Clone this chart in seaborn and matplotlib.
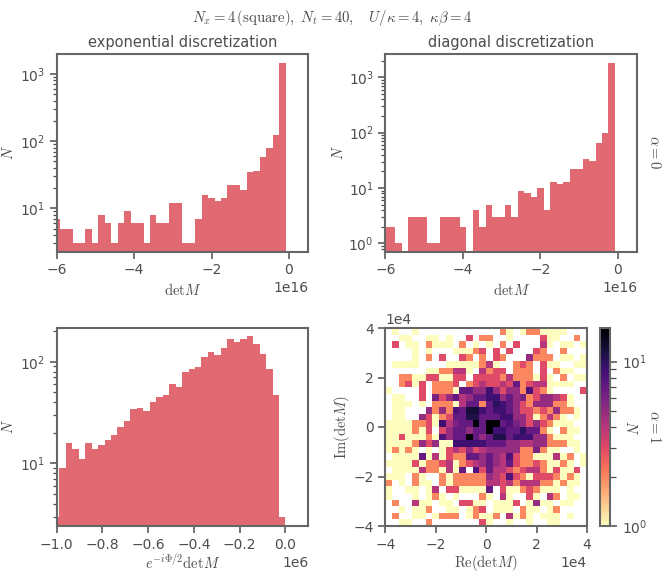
import matplotlib
matplotlib.use('Agg')
import matplotlib.pyplot as plt
import seaborn as sns
import numpy as np
from matplotlib.colors import LogNorm

# counts per bin, left to right
exp_counts = [7, 5, 5, 3, 3, 5, 3, 8, 6, 3, 6, 9, 6, 6, 3, 8, 6, 6, 12, 12, 3, 3, 7, 16, 14, 13, 14, 22, 22, 19, 35, 36, 59, 80, 122, 1450]
diag_counts = [2, 2, 1, 0, 3, 3, 3, 1, 1, 3, 3, 3, 2, 0, 4, 2, 5, 3, 3, 5, 3, 9, 8, 7, 10, 4, 13, 12, 13, 22, 22, 33, 31, 65, 97, 1800]
phase_counts = [3, 9, 16, 14, 11, 16, 14, 15, 17, 19, 23, 26, 34, 35, 33, 40, 45, 47, 61, 57, 80, 85, 88, 112, 125, 116, 135, 166, 158, 168, 178, 150, 118, 85, 47, 3]

# complex plane counts, top row first
plane_counts = [
    [0,1,0,0,1,0,0,0,0,0,0,0,0,0,0,0,0,2,1,0,1,2,2,1,1,1,1,0,0,0],
    [0,0,1,1,0,0,1,1,0,1,0,0,3,0,2,2,0,0,1,0,0,0,0,3,1,1,0,0,2,0],
    [0,3,0,1,1,0,2,1,1,1,0,2,0,1,0,1,0,2,0,3,0,0,0,4,1,0,1,1,0,1],
    [0,0,0,0,1,0,1,0,0,0,1,1,1,2,3,0,3,0,3,0,0,0,3,2,0,0,2,0,0,0],
    [0,0,0,0,1,0,2,0,3,0,0,3,2,0,2,0,3,2,0,0,0,5,2,2,2,0,1,1,0,1],
    [0,1,1,1,1,0,0,0,0,1,1,1,1,1,2,4,1,0,0,2,3,2,0,3,1,1,0,0,1,1],
    [0,0,0,0,0,0,1,1,2,2,4,4,1,0,4,2,3,3,0,2,2,2,0,3,0,2,1,1,0,0],
    [0,0,2,2,1,1,3,3,1,1,3,3,0,3,3,3,3,2,4,2,2,2,1,3,1,0,2,0,1,1],
    [0,0,2,3,1,3,0,2,2,2,3,0,2,3,4,3,3,4,3,7,2,3,4,4,1,1,1,1,0,0],
    [1,0,0,0,0,3,0,2,2,2,1,7,7,5,5,9,5,3,5,5,2,8,3,2,1,0,0,0,0,3],
    [0,1,1,0,0,3,0,6,3,5,7,4,5,7,7,9,9,5,7,5,6,2,3,5,5,4,3,1,0,0],
    [0,1,1,1,0,1,0,2,2,2,1,4,7,7,2,7,10,9,7,5,3,2,5,5,5,2,2,1,0,0],
    [0,1,1,0,0,0,5,2,5,2,8,7,12,12,9,7,9,9,7,5,3,3,2,3,2,5,2,2,1,0],
    [0,1,1,0,0,5,3,1,2,3,7,7,11,11,7,7,7,9,9,5,5,3,1,2,4,2,1,0,1,0],
    [1,1,1,1,2,2,3,1,9,4,6,7,7,16,7,16,16,7,8,6,5,3,5,3,2,1,1,1,0,0],
    [1,1,1,1,2,1,3,0,3,5,7,7,5,7,7,16,9,9,7,7,10,7,7,2,1,0,2,1,1,0],
    [1,1,3,1,1,1,2,1,8,5,7,7,16,7,5,7,11,11,7,9,9,9,5,5,2,1,1,1,0,0],
    [1,1,1,1,2,5,3,5,1,1,9,9,9,9,9,7,7,7,5,5,4,4,5,5,2,2,2,1,1,0],
    [1,2,1,2,1,0,1,0,1,3,4,3,5,3,4,5,5,5,5,5,2,2,6,2,1,1,0,0,1,0],
    [0,1,1,1,1,7,1,4,1,3,2,2,7,7,5,7,5,4,8,3,2,2,1,1,1,4,1,2,0,1],
    [1,1,1,1,3,1,2,2,3,4,1,2,3,4,5,7,5,4,7,3,2,2,3,2,1,1,2,1,0,1],
    [0,1,1,1,1,4,2,2,1,4,1,7,0,8,3,7,4,4,3,2,3,4,4,2,1,3,1,1,3,0],
    [1,1,1,0,2,1,0,0,2,1,2,2,2,2,2,5,4,3,8,3,2,1,3,3,3,2,1,2,1,0],
    [2,0,1,0,2,1,1,0,2,1,2,2,2,2,2,4,4,3,4,2,4,4,4,2,2,1,2,1,1,0],
    [1,0,0,1,1,0,1,4,0,3,3,1,1,1,1,7,0,3,1,1,2,3,2,1,1,1,0,1,0,0],
    [1,0,0,0,1,0,1,2,1,0,1,0,0,0,2,1,0,4,1,0,0,3,1,0,4,2,0,1,1,0],
    [0,2,0,0,4,1,1,0,1,1,0,3,3,1,1,0,1,1,1,3,0,1,5,1,1,0,1,1,0,0],
    [0,0,1,0,1,1,2,0,0,1,1,0,1,2,3,0,1,1,1,0,2,1,1,0,1,2,0,0,0,0],
    [0,2,0,0,1,1,0,1,2,2,2,0,1,2,1,1,2,0,4,1,2,1,0,1,1,1,0,1,0,0],
    [0,0,1,1,0,0,2,0,0,0,0,0,0,0,3,1,0,0,1,0,0,1,0,0,1,1,0,0,0,0],
]

GREY = '#4d4d4d'
RED = '#d9404a'

sns.set_theme(style='ticks', rc={
    'axes.edgecolor': '#666666', 'axes.linewidth': 1.5,
    'xtick.color': GREY, 'ytick.color': GREY,
    'xtick.labelcolor': GREY, 'ytick.labelcolor': GREY,
    'xtick.major.size': 4.8, 'ytick.major.size': 4.8,
    'xtick.minor.size': 2.6, 'ytick.minor.size': 2.6,
    'xtick.major.width': 1.1, 'ytick.major.width': 1.1,
    'ytick.minor.width': 0.9, 'xtick.minor.width': 0.9,
    'axes.labelcolor': GREY, 'axes.titlecolor': GREY, 'text.color': GREY,
    'mathtext.fontset': 'cm', 'font.size': 10,
    'xtick.labelsize': 10, 'ytick.labelsize': 10,
    'axes.titlesize': 10.55, 'axes.labelsize': 10.5,
})

W, H = 664, 576


def place(fig, left, top, right, bottom):
    return fig.add_axes([left / W, 1 - bottom / H, (right - left) / W, (bottom - top) / H])


def label_at(ax, xlab_y, ylab_x):
    ax.xaxis.label.set_va('center')
    ax.yaxis.label.set_va('center')
    ax.xaxis.set_label_coords(0.5, xlab_y)
    ax.yaxis.set_label_coords(ylab_x, 0.5)


def bar_hist(ax, counts, right_edge, width, scale, xlim, ylim):
    # bins run leftwards from the right edge, the first one is cut by the axis
    edges = right_edge - width * np.arange(len(counts), -1, -1)
    centers = (edges[:-1] + edges[1:]) / 2
    sns.histplot(x=centers * scale, weights=counts, bins=list(edges * scale), ax=ax,
                 color=RED, alpha=0.78, linewidth=0)
    ax.set_yscale('log')
    ax.set_xlim(xlim[0] * scale, xlim[1] * scale)
    ax.set_ylim(*ylim)
    ax.ticklabel_format(axis='x', style='sci', scilimits=(0, 0))
    ax.set_ylabel(r'$N$')


fig = plt.figure(figsize=(6.64, 5.76), dpi=100)

ax1 = place(fig, 56.7, 54, 308.3, 251.7)
bar_hist(ax1, exp_counts, -0.087, 0.1668, 1e16, (-6, 0.5), (2.26, 1980))
ax1.set_xticks(np.array([-6, -4, -2, 0]) * 1e16)
ax1.set_xlabel(r'$\mathrm{det}M$')
ax1.set_title('exponential discretization', pad=5)
label_at(ax1, -0.194, -0.193)

ax2 = place(fig, 385.3, 54, 637.3, 251.7)
bar_hist(ax2, diag_counts, -0.077, 0.1668, 1e16, (-6, 0.5), (0.707, 2637))
ax2.set_xticks(np.array([-6, -4, -2, 0]) * 1e16)
ax2.set_xlabel(r'$\mathrm{det}M$')
ax2.set_title('diagonal discretization', pad=5)
label_at(ax2, -0.194, -0.185)

ax3 = place(fig, 56.7, 327.7, 308.3, 526)
bar_hist(ax3, phase_counts, 0.0, 0.02825, 1e6, (-1, 0.1), (2.42, 216))
ax3.set_xticks(np.arange(-1, 0.1, 0.2) * 1e6)
ax3.set_xlabel(r'$e^{-i\Phi/2}\mathrm{det}M$')
label_at(ax3, -0.1865, -0.193)

ax4 = place(fig, 385.3, 328, 587, 526)
cax = place(fig, 599.7, 328, 610.3, 526)
plane = np.array(plane_counts)[::-1]
n_cells = plane.shape[0]
plane_edges = np.linspace(-4e4, 4e4, n_cells + 1)
plane_centers = (plane_edges[:-1] + plane_edges[1:]) / 2
xx, yy = np.meshgrid(plane_centers, plane_centers)
sns.histplot(x=xx.ravel(), y=yy.ravel(), weights=plane.ravel(),
             bins=[list(plane_edges), list(plane_edges)], ax=ax4, cmap='magma_r',
             norm=LogNorm(1, 16), vmin=None, vmax=None,
             cbar=True, cbar_ax=cax)
ax4.set_xlim(-4e4, 4e4)
ax4.set_ylim(-4e4, 4e4)
ax4.set_xticks(np.array([-4, -2, 0, 2, 4]) * 1e4)
ax4.set_yticks(np.array([-4, -2, 0, 2, 4]) * 1e4)
ax4.ticklabel_format(style='sci', scilimits=(0, 0))
ax4.set_xlabel(r'$\mathrm{Re}(\mathrm{det}M)$')
ax4.set_ylabel(r'$\mathrm{Im}(\mathrm{det}M)$')
label_at(ax4, -0.1865, -0.215)

cax.set_ylabel(r'$N$', rotation=270, va='center')
cax.yaxis.set_label_coords(2.95, 0.5)
cax.tick_params(which='minor', length=4)

fig.text(0.5, 1 - 18 / H, r'$N_x = 4\,\mathrm{(square)},\ N_t = 40,\quad U/\kappa = 4,\ \kappa\beta = 4$',
         ha='center', va='center', fontsize=10.65)
fig.text(654.5 / W, 1 - 152 / H, r'$\alpha = 0$', rotation=270, ha='center', va='center', fontsize=10.5)
fig.text(654.5 / W, 1 - 427 / H, r'$\alpha = 1$', rotation=270, ha='center', va='center', fontsize=10.5)

fig.savefig('out.png', dpi=100)
